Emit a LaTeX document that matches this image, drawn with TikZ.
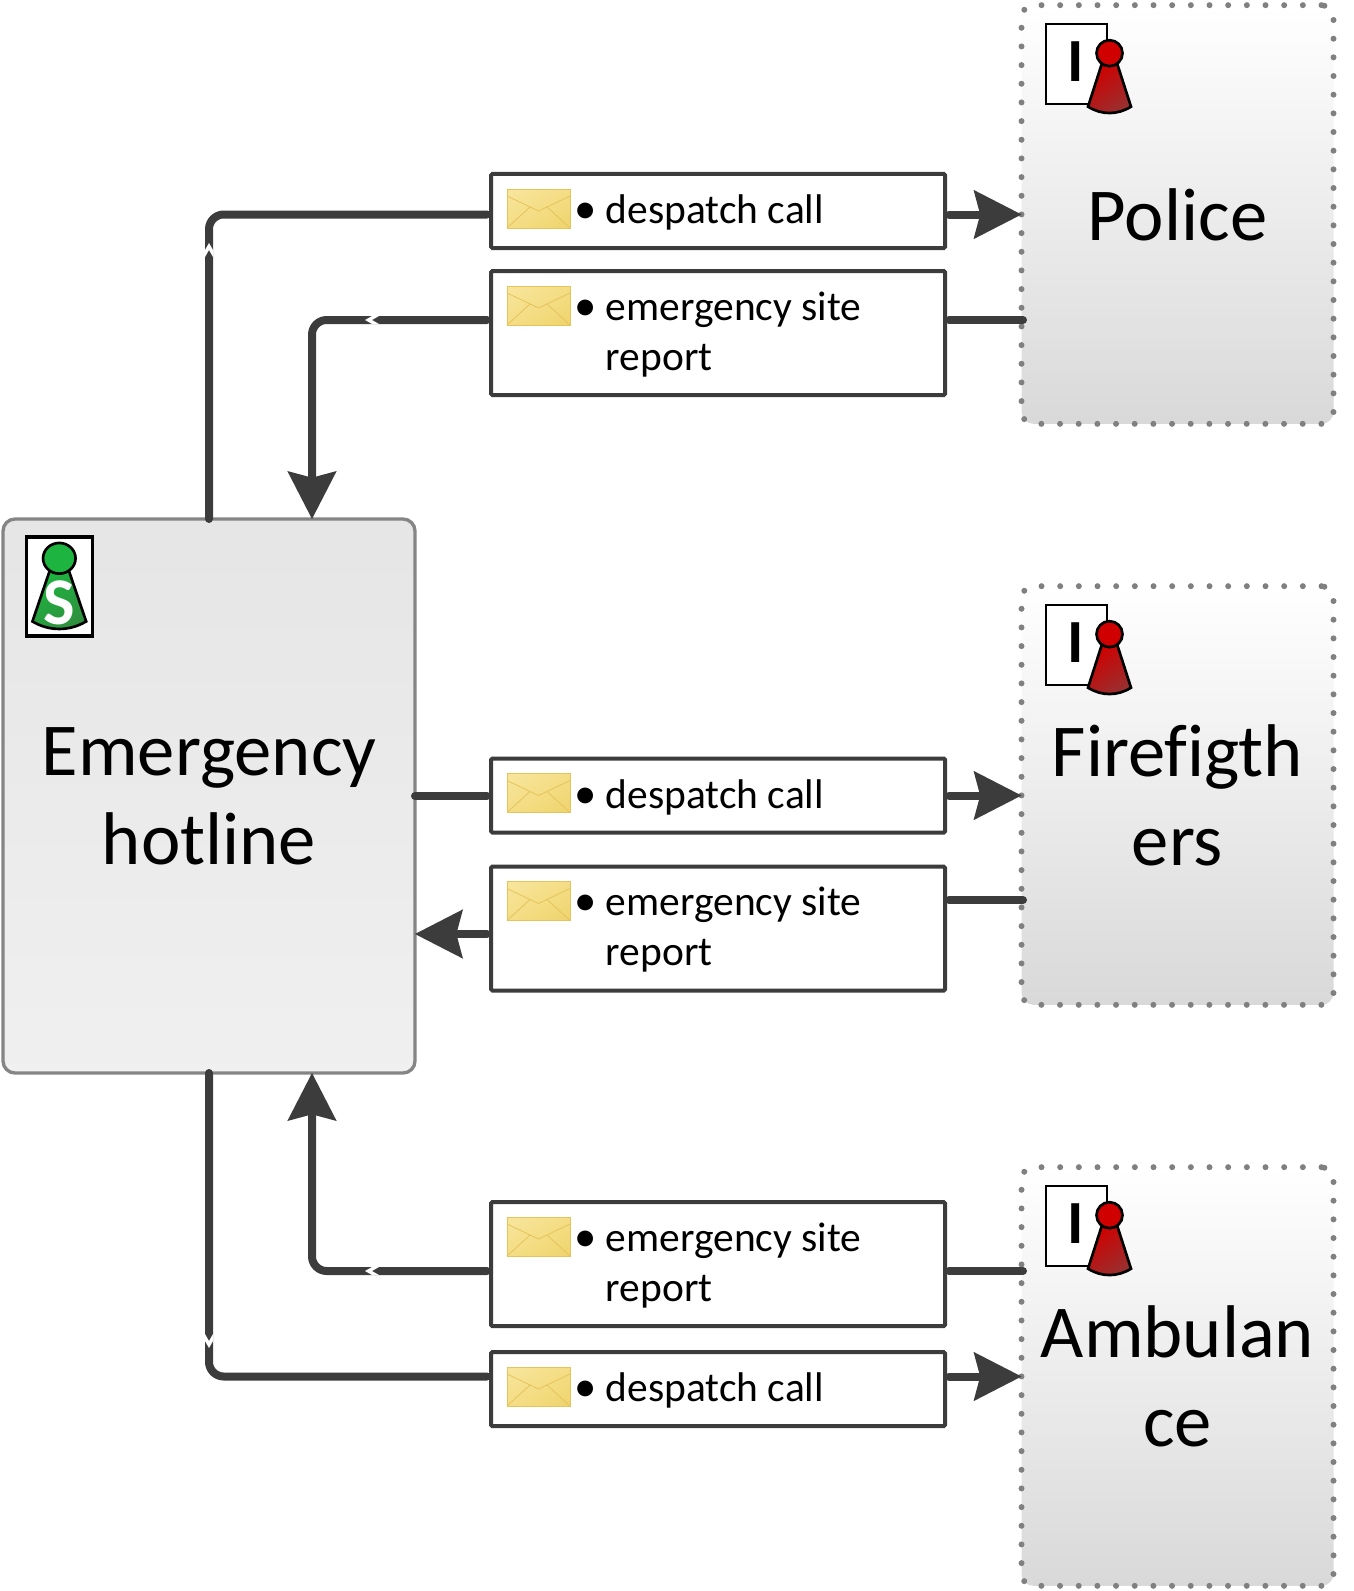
\documentclass[tikz,border=0pt]{standalone}
\usepackage{fontspec}
\setmainfont[Ligatures=NoCommon]{Carlito}
\usetikzlibrary{arrows.meta,shadings}
\definecolor{flowgray}{HTML}{3C3C3C}
\definecolor{dotgray}{HTML}{808080}
\definecolor{pawnred}{HTML}{D00000}
\definecolor{pawndark}{HTML}{983030}
\definecolor{pawngreen}{HTML}{1DB53F}
\definecolor{pawnolive}{HTML}{2F8F3F}
\definecolor{envlight}{HTML}{F8E69E}
\definecolor{envmid}{HTML}{F4DD85}
\definecolor{envdark}{HTML}{EFD46C}
\definecolor{envline}{HTML}{E6C45C}
\tikzset{
	flow/.style={draw=flowgray,line width=6pt,line cap=round,rounded corners=11pt},
	flowtip/.style={flow,-{Stealth[length=36pt,width=37pt,inset=5pt,line width=0pt]}},
	actorbox/.style={draw=dotgray,line width=4.5pt,line cap=round,dash pattern=on 0pt off 14pt,
		rounded corners=9pt,top color=white,bottom color=black!15,outer sep=0pt,
		minimum width=234pt,minimum height=314pt,align=center,font=\fontsize{56}{67}\selectfont},
	mainbox/.style={draw=black!48,line width=2.5pt,rounded corners=9pt,top color=black!10,bottom color=black!6,
		outer sep=0pt,minimum width=309pt,minimum height=415.5pt,align=center,font=\fontsize{56}{67}\selectfont},
	msgbox/.style={draw=flowgray,line width=3pt,fill=white,rounded corners=1pt,outer sep=0pt,minimum width=340.5pt},
	msgtext/.style={inner sep=0pt,align=left,font=\fontsize{31.1}{37.5}\selectfont},
}
\newcommand{\pawnfig}[4]{\draw[line width=2pt,top color=#1,bottom color=#2,shading angle=35,shift={(#3,#4)}]
		(-7.5,10) -- (-21.5,53.5) .. controls (-8,62) and (8,62) .. (21.5,53.5) -- (7.5,10) -- cycle;
	\draw[line width=2pt,fill=#1,shift={(#3,#4)}] (0,0) circle (13)}
\newcommand{\gapmark}[2]{\fill[white,shift={(#1)},rotate=#2] (0,-7) -- (4,0) -- (4,7) -- (0,0) -- (-4,7) -- (-4,0) -- cycle}
\newcommand{\infactor}[1]{\begin{scope}[shift={(#1.north west)}]
		\draw[line width=1.5pt,fill=white] (24,19) rectangle (85,99);
		\node (#1-i) at (54,56) {\fontsize{46}{46}\selectfont\bfseries I};
		\pawnfig{pawnred}{pawndark}{88}{48};
	\end{scope}}
\newcommand{\envelope}[1]{\begin{scope}[shift={(#1.north west)}]
		\draw[draw=envline,line width=.6pt,upper left=envlight,upper right=envmid,
			lower left=envmid,lower right=envdark] (16,15) rectangle (79,54);
		\draw[draw=envline,line width=.6pt] (16,22) -- (47.5,37) -- (79,22);
		\draw[draw=envline,line width=.6pt] (16,54) -- (39,33) (79,54) -- (56,33);
	\end{scope}}
\newcommand{\msglabel}[2]{\envelope{#1}
	\node[msgtext,anchor=west] (#1-t) at ([xshift=86pt,yshift=-1.1pt]#1.west) {\llap{\fontsize{33.5}{33.5}\selectfont\textbullet\hspace{7pt}}#2}}

\begin{document}
\begin{tikzpicture}[x=.75pt,y=-.75pt]
	\useasboundingbox (0,0) rectangle (1353,1591);
		\node[mainbox] (main) at (209,796) {Emergency\\hotline};
		\node[actorbox] (police) at (1177.5,214.5) {Police};
		\node[actorbox] (fire) at (1177.5,795.5) {Firefigth\\ers};
		\node[actorbox] (ambu) at (1177.5,1376.5) {Ambulan\\ce};
			\begin{scope}[shift={(main.north west)}]
				\draw[line width=2.8pt,fill=white] (23.5,18) rectangle (89.5,117);
				\begin{scope}[shift={(56.3,39.3)},xscale=1.25,yscale=1.18]
					\pawnfig{pawngreen}{pawnolive}{0}{0};
				\end{scope}
				\node (main-s) at (56.3,84) {\fontsize{50}{50}\selectfont\bfseries\color{white}S};
			\end{scope}
			\infactor{police}
			\infactor{fire}
			\infactor{ambu}
		\coordinate (repP) at (1023,320);
		\coordinate (repF) at (1023,900);
		\coordinate (repA) at (1023,1271);
		\coordinate (inP) at (312,519);
		\coordinate (inF) at (415,934);
		\coordinate (inA) at (312,1073);
		\node[msgbox,minimum height=55.5pt] (dcP) at (718,211) {};
		\node[msgbox,minimum height=93pt] (erP) at (718,333) {};
		\node[msgbox,minimum height=55.5pt] (dcF) at (718,795.5) {};
		\node[msgbox,minimum height=93pt] (erF) at (718,928.5) {};
		\node[msgbox,minimum height=93pt] (erA) at (718,1264) {};
		\node[msgbox,minimum height=55.5pt] (dcA) at (718,1389) {};
			\draw[flow,shorten >=3pt] (main.north) |- (dcP.west |- police.west);
			\draw[flowtip,shorten <=3pt] (dcP.east |- police.west) -- (police.west);
			\draw[flow,shorten >=3pt] (repP) -- (erP.east |- repP);
			\draw[flowtip,shorten <=3pt] (erP.west |- repP) -| (inP);
			\draw[flow,shorten >=3pt] (main.east) -- (dcF.west |- main.east);
			\draw[flowtip,shorten <=3pt] (dcF.east |- fire.west) -- (fire.west);
			\draw[flow,shorten >=3pt] (repF) -- (erF.east |- repF);
			\draw[flowtip,shorten <=3pt] (erF.west |- inF) -- (inF);
			\draw[flow,shorten >=3pt] (main.south) |- (dcA.west |- ambu.west);
			\draw[flowtip,shorten <=3pt] (dcA.east |- ambu.west) -- (ambu.west);
			\draw[flow,shorten >=3pt] (repA) -- (erA.east |- repA);
			\draw[flowtip,shorten <=3pt] (erA.west |- repA) -| (inA);
				\gapmark{209,250}{0};
				\gapmark{372,320}{90};
				\gapmark{372,1271}{90};
				\gapmark{209,1341}{180};
				\msglabel{dcP}{despatch call};
				\msglabel{erP}{emergency site\\report};
				\msglabel{dcF}{despatch call};
				\msglabel{erF}{emergency site\\report};
				\msglabel{erA}{emergency site\\report};
				\msglabel{dcA}{despatch call};
\end{tikzpicture}
\end{document}
